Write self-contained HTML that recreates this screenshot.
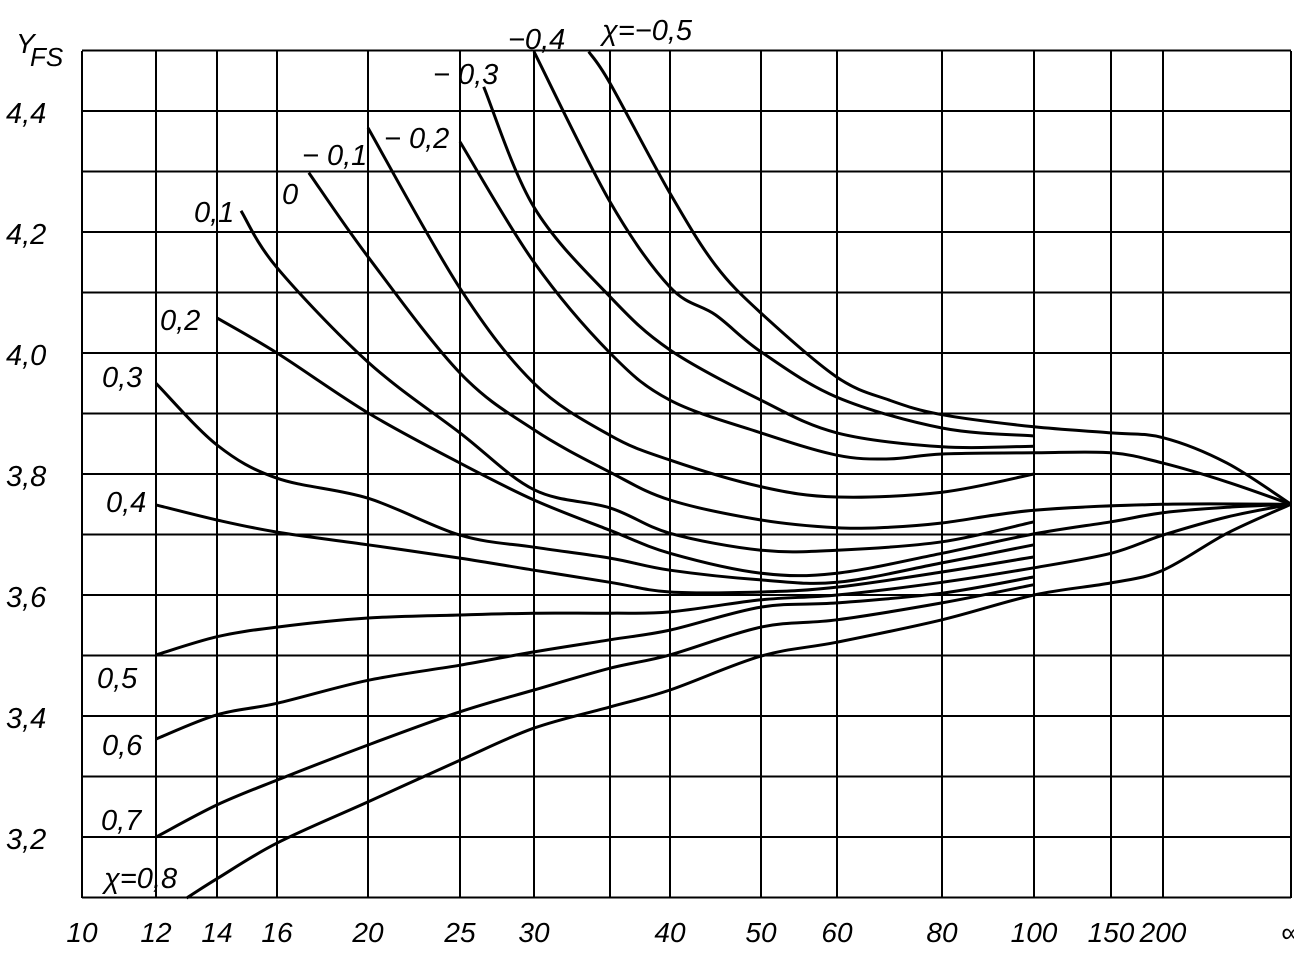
<!DOCTYPE html>
<html><head><meta charset="utf-8">
<style>
html,body{margin:0;padding:0;background:#fff;}
svg{display:block;}
text{font-family:"Liberation Sans",sans-serif;fill:#000;font-style:italic;}
</style></head>
<body>
<svg id="chart" width="1294" height="955" viewBox="0 0 1294 955" xmlns="http://www.w3.org/2000/svg">
<g id="grid"></g>
<g id="curves"></g>
<g id="labels"></g>
</svg>
<script>
// Data
const xTickValues = [10,12,14,16,20,25,30,35,40,50,60,80,100,150,200,1000];
const xTickLabels = ["10","12","14","16","20","25","30","","40","50","60","80","100","150","200","∞"];
const yTickValues = [4.4,4.2,4.0,3.8,3.6,3.4,3.2];
const yTickLabels = ["4,4","4,2","4,0","3,8","3,6","3,4","3,2"];
const chiValues = ["-0.5","-0.4","-0.3","-0.2","-0.1","0","0.1","0.2","0.3","0.4","0.5","0.6","0.7","0.8"];
const curveM05 = [[33.6,4.498],[35,4.446],[40,4.264],[45,4.145],[50,4.066],[60,3.960],[70,3.922],[80,3.898],[100,3.878],[150,3.868],[200,3.860],[600,3.818],[1000,3.75]];
const curveM04 = [[30,4.498],[35,4.250],[40,4.109],[45,4.063],[50,4.002],[60,3.927],[80,3.876],[100,3.863]];
const curveM03 = [[26.6,4.440],[30,4.241],[35,4.093],[40,4.005],[50,3.922],[60,3.868],[80,3.845],[100,3.846]];
const curveM02 = [[25,4.349],[30,4.150],[35,4.000],[40,3.922],[50,3.868],[60,3.831],[70,3.825],[80,3.833],[100,3.835],[150,3.835],[200,3.818],[600,3.787],[1000,3.75]];
const curveM01 = [[20,4.372],[25,4.107],[30,3.950],[35,3.864],[40,3.823],[50,3.779],[60,3.762],[80,3.770],[100,3.800]];
const curveP00 = [[17.4,4.298],[20,4.159],[25,3.967],[30,3.873],[35,3.803],[40,3.757],[50,3.724],[60,3.711],[70,3.712],[80,3.719],[100,3.740],[200,3.75],[1000,3.75]];
const curveP01 = [[14.8,4.235],[16,4.141],[20,3.985],[25,3.868],[30,3.774],[35,3.744],[40,3.702],[50,3.674],[60,3.674],[80,3.688],[100,3.721]];
const curveP02 = [[14,4.058],[16,4.000],[20,3.901],[25,3.818],[30,3.757],[35,3.707],[40,3.669],[50,3.636],[60,3.636],[80,3.669],[100,3.701],[150,3.721],[200,3.736],[600,3.745],[1000,3.75]];
const curveP03 = [[12,3.950],[14,3.848],[16,3.793],[20,3.760],[25,3.699],[30,3.679],[35,3.661],[40,3.641],[50,3.625],[60,3.621],[80,3.653],[100,3.683]];
const curveP04 = [[12,3.749],[14,3.724],[16,3.704],[20,3.683],[25,3.661],[30,3.641],[35,3.621],[40,3.605],[50,3.605],[60,3.613],[80,3.638],[100,3.663]];
const curveP05 = [[12,3.501],[14,3.531],[16,3.547],[20,3.562],[25,3.567],[30,3.570],[35,3.570],[40,3.572],[50,3.592],[60,3.600],[80,3.621],[100,3.645],[150,3.669],[200,3.699],[600,3.729],[1000,3.75]];
const curveP06 = [[12,3.362],[14,3.402],[16,3.421],[20,3.459],[25,3.484],[30,3.506],[35,3.526],[40,3.542],[50,3.580],[60,3.587],[80,3.603],[100,3.630]];
const curveP07 = [[12,3.200],[14,3.253],[16,3.294],[20,3.352],[25,3.407],[30,3.443],[35,3.479],[40,3.501],[50,3.547],[60,3.559],[80,3.587],[100,3.617]];
const curveP08 = [[13,3.099],[14,3.131],[16,3.190],[20,3.258],[25,3.327],[30,3.380],[35,3.415],[40,3.443],[50,3.499],[60,3.522],[80,3.559],[100,3.600],[150,3.620],[200,3.641],[600,3.702],[1000,3.75]];
const allCurves = [curveM05,curveM04,curveM03,curveM02,curveM01,curveP00,curveP01,curveP02,curveP03,curveP04,curveP05,curveP06,curveP07,curveP08];

// Layout (non-uniform x axis: pixel knots of the grid)
const xKnotPx = [82,156,217,277,368,460,534,610,670,761,837,942,1034,1111,1163,1291];
const plotTop = 51, plotBottom = 898, plotLeft = 82, plotRight = 1291;
function xScale(v){
  for(let i=0;i<xTickValues.length-1;i++){
    const a=xTickValues[i], b=xTickValues[i+1];
    if(v<=b || i===xTickValues.length-2){
      return xKnotPx[i]+(v-a)/(b-a)*(xKnotPx[i+1]-xKnotPx[i]);
    }
  }
}
function yScale(v){ return 111 + (4.4 - v)*605; }

const NS="http://www.w3.org/2000/svg";
const gGrid=document.getElementById('grid');
const gCurves=document.getElementById('curves');
const gLabels=document.getElementById('labels');
function mk(tag,attrs,parent){const e=document.createElementNS(NS,tag);for(const k in attrs)e.setAttribute(k,attrs[k]);parent.appendChild(e);return e;}

// vertical gridlines
xTickValues.forEach((v,i)=>{
  const x=xScale(v);
  const l=mk('line',{x1:x,x2:x,y1:plotTop,y2:plotBottom,stroke:'#000','stroke-width':2},gGrid);
  
  
  if(xTickLabels[i]){
    const t=mk('text',{x:x,y:942,'font-size':28,'text-anchor':'middle'},gLabels);
    t.textContent=xTickLabels[i];
    
    
  }
});
// horizontal gridlines every 0.1
for(let k=0;k<=14;k++){
  const v=4.5-k*0.1;
  const y=yScale(v);
  const l=mk('line',{x1:plotLeft,x2:plotRight,y1:y,y2:y,stroke:'#000','stroke-width':2},gGrid);
  
  
}
yTickValues.forEach((v,i)=>{
  const t=mk('text',{x:6,y:yScale(v)+12,'font-size':29},gLabels);
  t.textContent=yTickLabels[i];
  
  
});

// curves (Catmull-Rom)
function pathFor(pts){
  const p=pts.map(d=>[xScale(d[0]),yScale(d[1])]);
  let s='M'+p[0][0].toFixed(1)+' '+p[0][1].toFixed(1);
  for(let i=0;i<p.length-1;i++){
    const p0=p[i-1]||p[i],p1=p[i],p2=p[i+1],p3=p[i+2]||p2;
    const c1=[p1[0]+(p2[0]-p0[0])/6,p1[1]+(p2[1]-p0[1])/6];
    const c2=[p2[0]-(p3[0]-p1[0])/6,p2[1]-(p3[1]-p1[1])/6];
    s+=' C'+c1.map(n=>n.toFixed(1)).join(' ')+' '+c2.map(n=>n.toFixed(1)).join(' ')+' '+p2[0].toFixed(1)+' '+p2[1].toFixed(1);
  }
  return s;
}
allCurves.forEach((c,i)=>{
  const p=mk('path',{d:pathFor(c),fill:'none',stroke:'#000','stroke-width':3,'stroke-linejoin':'round'},gCurves);
  
  
});
</script>
<svg style="position:absolute;left:0;top:0" width="1294" height="955">
<g font-size="29" style="font-family:'Liberation Sans',sans-serif;font-style:italic">
<text x="16" y="53" font-size="28">Y</text>
<text x="30" y="66" font-size="26">FS</text>
<text x="602" y="40">χ=−0,5</text>
<text x="508" y="49">−0,4</text>
<text x="433" y="84">− 0,3</text>
<text x="384" y="148">− 0,2</text>
<text x="302" y="165">− 0,1</text>
<text x="282" y="204">0</text>
<text x="194" y="222">0,1</text>
<text x="160" y="330">0,2</text>
<text x="102" y="387">0,3</text>
<text x="106" y="512">0,4</text>
<text x="97" y="688">0,5</text>
<text x="102" y="755">0,6</text>
<text x="101" y="830">0,7</text>
<text x="104" y="888">χ=0,8</text>
</g>
</svg>
</body></html>
